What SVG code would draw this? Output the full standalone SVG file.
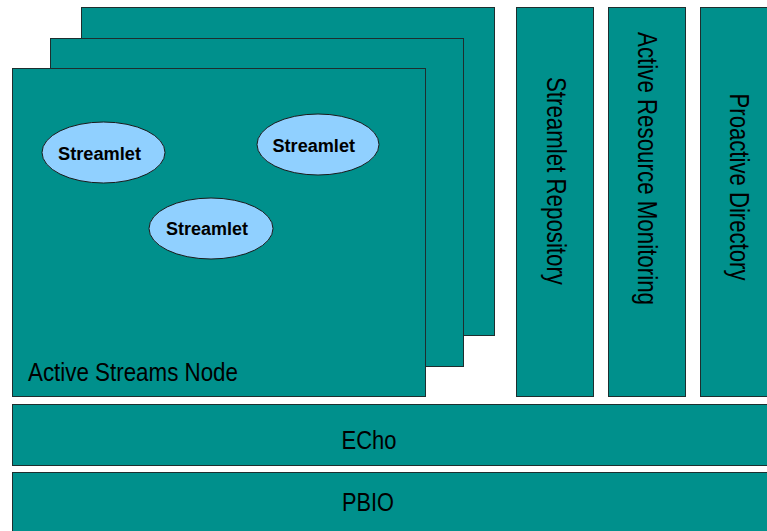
<svg xmlns="http://www.w3.org/2000/svg" width="767" height="531" viewBox="0 0 767 531">
<style>
.box{fill:#00908C;stroke:#1e2e2e;stroke-width:1}
.ell{fill:#90D0FF;stroke:#1a1a1a;stroke-width:1}
.lbl{font-family:"Liberation Sans",Arial,sans-serif;fill:#000}
.big{font-size:25px}
.vert{font-size:28px}
.sl{font-size:18px;font-weight:bold}
</style>
<rect width="767" height="531" fill="#fff"/>
<g id="node-back"><rect class="box" x="81.5" y="7.5" width="413" height="328"/></g>
<g id="node-middle"><rect class="box" x="50.5" y="38.5" width="413" height="328"/></g>
<g id="active-streams-node">
<rect class="box" x="12.5" y="68.5" width="413" height="328"/>
<text class="lbl big" x="28" y="381" textLength="210" lengthAdjust="spacingAndGlyphs">Active Streams Node</text>
</g>
<g id="streamlet-1">
<ellipse class="ell" cx="103.5" cy="152.5" rx="61.5" ry="30.5"/>
<text class="lbl sl" x="58" y="160" textLength="83" lengthAdjust="spacingAndGlyphs">Streamlet</text>
</g>
<g id="streamlet-2">
<ellipse class="ell" cx="318" cy="144.5" rx="61" ry="30.5"/>
<text class="lbl sl" x="272.5" y="151.7" textLength="82.5" lengthAdjust="spacingAndGlyphs">Streamlet</text>
</g>
<g id="streamlet-3">
<ellipse class="ell" cx="211" cy="228.5" rx="62" ry="30.5"/>
<text class="lbl sl" x="166" y="235" textLength="82" lengthAdjust="spacingAndGlyphs">Streamlet</text>
</g>
<g id="streamlet-repository">
<rect class="box" x="516.5" y="7.5" width="77" height="389"/>
<text class="lbl vert" transform="translate(546.7,77) rotate(90)" textLength="208" lengthAdjust="spacingAndGlyphs">Streamlet Repository</text>
</g>
<g id="active-resource-monitoring">
<rect class="box" x="608.5" y="7.5" width="77" height="389"/>
<text class="lbl vert" transform="translate(638.3,32) rotate(90)" textLength="273" lengthAdjust="spacingAndGlyphs">Active Resource Monitoring</text>
</g>
<g id="proactive-directory">
<rect class="box" x="700.5" y="7.5" width="77" height="389"/>
<text class="lbl vert" transform="translate(730,93.5) rotate(90)" textLength="187" lengthAdjust="spacingAndGlyphs">Proactive Directory</text>
</g>
<g id="echo">
<rect class="box" x="12.5" y="404.5" width="760" height="61"/>
<text class="lbl big" x="341.5" y="449.3" textLength="55" lengthAdjust="spacingAndGlyphs">ECho</text>
</g>
<g id="pbio">
<rect class="box" x="12.5" y="472.5" width="760" height="65"/>
<text class="lbl big" x="342" y="510.7" textLength="52" lengthAdjust="spacingAndGlyphs">PBIO</text>
</g>
<g id="connectors"></g>
</svg>
